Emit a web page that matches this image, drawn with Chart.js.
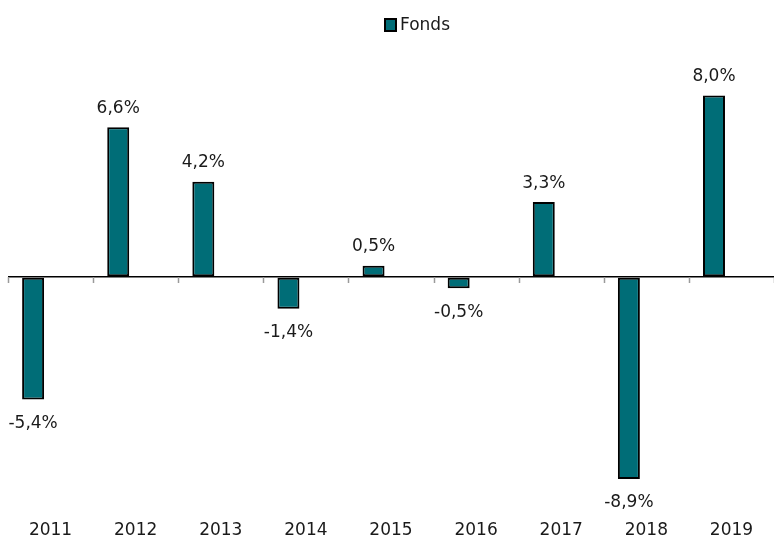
<!DOCTYPE html>
<html>
<head>
<meta charset="utf-8">
<script src="https://cdn.jsdelivr.net/npm/chart.js@4"></script>
<style>
	html, body { margin: 0; padding: 0; background: #fff; }
	#wrap { width: 774px; height: 540px; }
</style>
</head>
<body>
<div id="wrap"><canvas id="chart-fonds"></canvas></div>
<script>
const YEARS = ["2011", "2012", "2013", "2014", "2015", "2016", "2017", "2018", "2019"];
const FONDS = [-5.4, 6.6, 4.2, -1.4, 0.5, -0.5, 3.3, -8.9, 8.0];
const EMPTY = [null, null, null, null, null, null, null, null, null];
const SERIES_NAME = "Fonds";

const TEAL = "#006d77";
const TEXT = "#1a1a1a";
const FONT = { family: "'DejaVu Sans', Verdana, sans-serif", size: 17 };

const fmt = (v) => v.toFixed(1).replace(".", ",") + "%";

// value labels above/below each bar, small tick marks on the zero line, legend
const extras = {
	id: "extras",
	afterDatasetsDraw(chart) {
		const { ctx, scales } = chart;
		const meta = chart.getDatasetMeta(0);
		const x = scales.x;
		const zeroY = scales.y.getPixelForValue(0);

		ctx.save();
		// tick marks between categories
		const half = (x.getPixelForTick(1) - x.getPixelForTick(0)) / 2;
		ctx.strokeStyle = "#9a9a9a";
		ctx.lineWidth = 1.5;
		for (let i = 0; i <= YEARS.length; i++) {
			const px = Math.round(x.getPixelForTick(0) - half + i * half * 2) + 0.5;
			ctx.beginPath();
			ctx.moveTo(px, zeroY);
			ctx.lineTo(px, zeroY + 6);
			ctx.stroke();
		}

		ctx.font = FONT.size + "px " + FONT.family;
		ctx.fillStyle = TEXT;
		ctx.textAlign = "center";
		ctx.textBaseline = "middle";
		meta.data.forEach((bar, i) => {
			const v = FONDS[i];
			const y = v >= 0 ? bar.y - 19 : bar.y + 24;
			ctx.fillText(fmt(v), bar.x, y);
		});

		// legend
		ctx.fillStyle = TEAL;
		ctx.strokeStyle = "#000";
		ctx.lineWidth = 2;
		ctx.fillRect(385, 19, 11, 12);
		ctx.strokeRect(385, 19, 11, 12);
		ctx.fillStyle = TEXT;
		ctx.textAlign = "left";
		ctx.fillText(SERIES_NAME, 400, 26);
		ctx.restore();
	},
};

new Chart(document.getElementById("chart-fonds"), {
	type: "bar",
	data: {
		labels: YEARS,
		datasets: [
			{
				label: SERIES_NAME,
				data: FONDS,
				backgroundColor: TEAL,
				borderColor: "#000",
				borderWidth: 2,
				borderSkipped: false,
				categoryPercentage: 0.82,
				barPercentage: 0.63,
			},
			{
				label: "",
				data: EMPTY,
				categoryPercentage: 0.82,
				barPercentage: 0.63,
			},
		],
	},
	options: {
		responsive: true,
		maintainAspectRatio: false,
		animation: false,
		layout: {
			padding: { left: 8, right: -4, top: 50, bottom: 0 },
		},
		plugins: {
			legend: { display: false },
			tooltip: { enabled: false },
		},
		scales: {
			x: {
				border: { display: false },
				grid: { display: false, drawTicks: false },
				ticks: { font: FONT, color: TEXT, padding: 16, maxRotation: 0 },
				afterFit: (s) => {
					s.height = 36;
				},
			},
			y: {
				min: -10,
				max: 10,
				border: { display: false },
				ticks: { display: false, stepSize: 10 },
				grid: {
					drawTicks: false,
					color: (c) => (c.tick && c.tick.value === 0 ? "#000" : "transparent"),
					lineWidth: 1.5,
				},
			},
		},
	},
	plugins: [extras],
});
</script>
</body>
</html>
